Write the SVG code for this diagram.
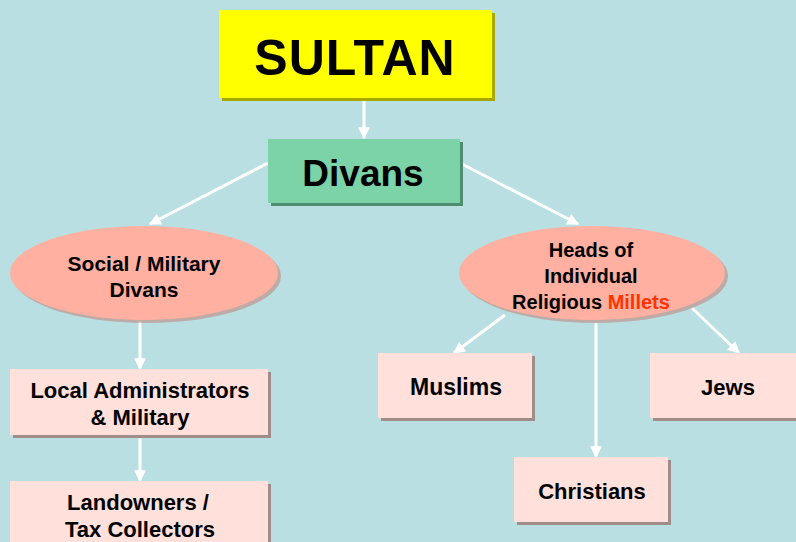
<svg xmlns="http://www.w3.org/2000/svg" width="796" height="542" viewBox="0 0 796 542">
<defs>
<style>
.t{font-family:"Liberation Sans",Arial,sans-serif;font-weight:bold;fill:#000;text-anchor:middle}
.b{font-size:22px}
.box{fill:#FFE0DA}
.sh{fill:#A08C88}
.ell{fill:#FFB0A0}
.esh{fill:#C08880;opacity:0.6}
.c{stroke:#FFFFFF;stroke-width:3;fill:none;marker-end:url(#ah)}
</style>
<marker id="ah" viewBox="0 0 10 10" refX="9" refY="5" markerWidth="4" markerHeight="4" orient="auto" markerUnits="strokeWidth">
<path d="M0,0 L10,5 L0,10 z" fill="#FFFFFF"/>
</marker>
</defs>
<rect width="796" height="542" fill="#B9DFE2"/>
<g id="connectors">
<line class="c" x1="364" y1="98" x2="364" y2="138"/>
<line class="c" x1="268" y1="163" x2="150" y2="224"/>
<line class="c" x1="460" y1="163" x2="578" y2="224"/>
<line class="c" x1="140" y1="321" x2="140" y2="369"/>
<line class="c" x1="140" y1="436" x2="140" y2="481"/>
<line class="c" x1="505" y1="315" x2="454" y2="353"/>
<line class="c" x1="596" y1="323" x2="596" y2="457"/>
<line class="c" x1="692" y1="308" x2="739" y2="353"/>
</g>
<g id="sultan">
<rect x="222" y="13" width="273" height="88" fill="#A8A800"/>
<rect x="219" y="10" width="273" height="88" fill="#FFFF00"/>
<text class="t" x="355" y="75" font-size="50" letter-spacing="1">SULTAN</text>
</g>
<g id="divans">
<rect x="271" y="142" width="192" height="64" fill="#4E8E6E"/>
<rect x="268" y="139" width="192" height="64" fill="#7DD3A8"/>
<text class="t" x="363" y="186" font-size="37">Divans</text>
</g>
<g id="social">
<ellipse class="esh" cx="147" cy="276" rx="134" ry="47"/>
<ellipse class="ell" cx="144" cy="273" rx="134" ry="47"/>
<text class="t" x="144" y="271" font-size="21">Social / Military</text>
<text class="t" x="144" y="297" font-size="21">Divans</text>
</g>
<g id="heads">
<ellipse class="esh" cx="595" cy="276" rx="133" ry="47"/>
<ellipse class="ell" cx="592" cy="273" rx="133" ry="47"/>
<text class="t" x="591" y="257" font-size="20">Heads of</text>
<text class="t" x="591" y="283" font-size="20">Individual</text>
<text class="t" x="591" y="309" font-size="20">Religious <tspan fill="#FF3300">Millets</tspan></text>
</g>
<g id="local">
<rect class="sh" x="13" y="372" width="258" height="66"/>
<rect class="box" x="10" y="369" width="258" height="66"/>
<text class="t b" x="140" y="398">Local Administrators</text>
<text class="t b" x="140" y="425">&amp; Military</text>
</g>
<g id="landowners">
<rect class="sh" x="13" y="484" width="258" height="66"/>
<rect class="box" x="10" y="481" width="258" height="66"/>
<text class="t b" x="138" y="510">Landowners /</text>
<text class="t b" x="140" y="537">Tax Collectors</text>
</g>
<g id="muslims">
<rect class="sh" x="381" y="356" width="154" height="65"/>
<rect class="box" x="378" y="353" width="154" height="65"/>
<text class="t" x="456" y="395" font-size="23">Muslims</text>
</g>
<g id="christians">
<rect class="sh" x="517" y="460" width="154" height="65"/>
<rect class="box" x="514" y="457" width="154" height="65"/>
<text class="t b" x="592" y="499">Christians</text>
</g>
<g id="jews">
<rect class="sh" x="653" y="356" width="146" height="65"/>
<rect class="box" x="650" y="353" width="146" height="65"/>
<text class="t b" x="728" y="395">Jews</text>
</g>
</svg>
